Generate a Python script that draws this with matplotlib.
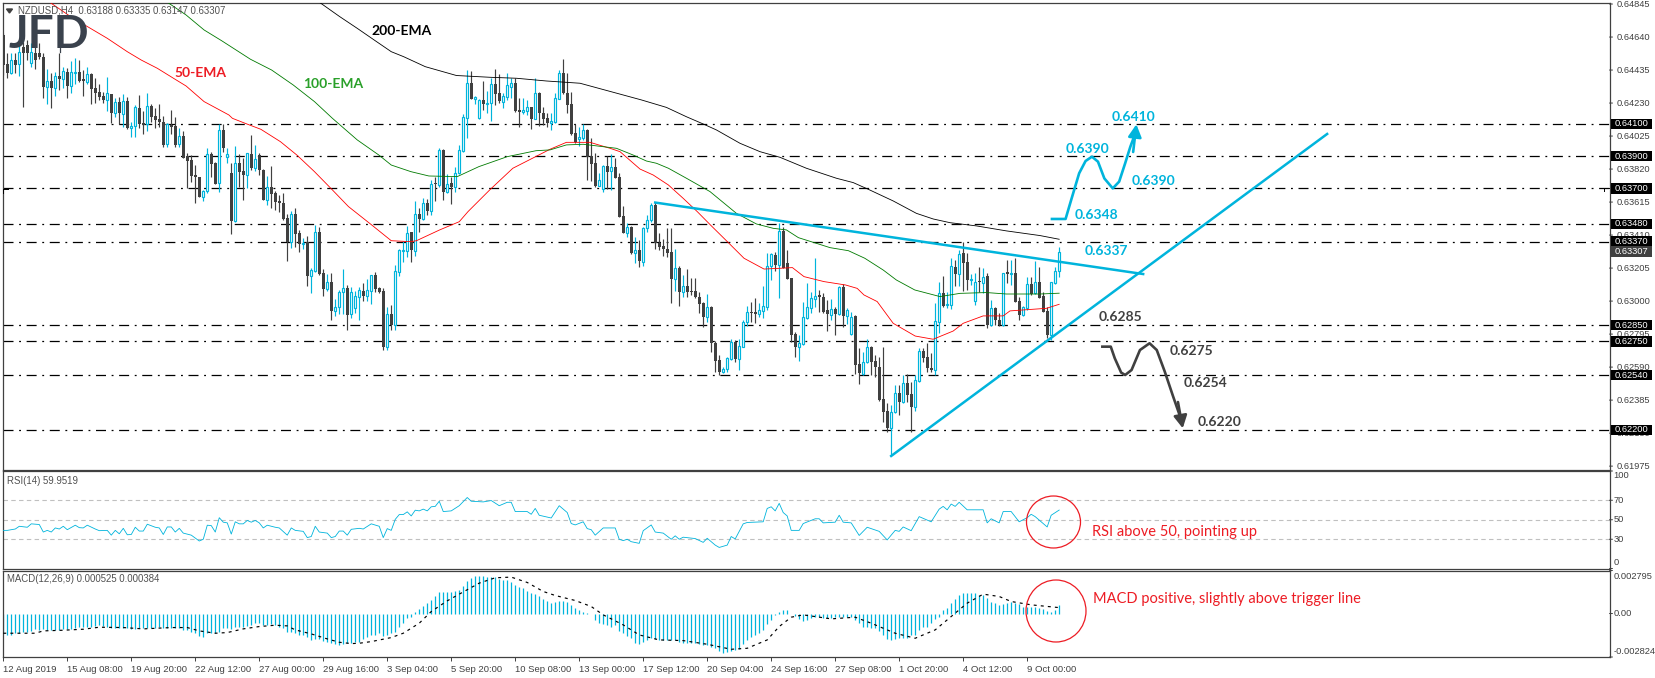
#!/usr/bin/env python3
import matplotlib
matplotlib.use('Agg')
import matplotlib.pyplot as plt
import numpy as np
from matplotlib.patches import Ellipse, Rectangle
from matplotlib.transforms import blended_transform_factory

# prices are quote points, 63307 = 0.63307
up_bars = ('0010100100' '0101010110' '0100001010' '1011001000' '0100100000' '1100101010' '0101001000'
           '0010010110' '0101110111' '0110001011' '1101010101' '0101111011' '0110011100' '1101000111'
           '0000110001' '1010001010' '1110000010' '1000001000' '1110111001' '1110100001' '1111000101'
           '0110011000' '0011010011' '0001101101' '0011010100' '1010011010' '00111')

body_top = [64653,64473,64498,64498,64549,64580,64591,64549,64543,64543,
            64518,64367,64367,64400,64400,64427,64421,64421,64423,64421,
            64377,64411,64411,64324,64297,64274,64291,64286,64237,64237,
            64243,64245,64088,64204,64201,64104,64212,64212,64148,64131,
            64110,64100,64096,64088,64023,64026,63901,63877,63783,63769,
            63682,63912,63914,63856,64063,64063,63912,63794,63856,63856,
            63806,63918,63916,63881,63908,63815,63707,63707,63670,63622,
            63612,63514,63541,63541,63421,63359,63365,63192,63430,63430,
            63173,63117,63117,62962,63055,63080,63080,63055,63032,63067,
            63063,63069,63160,63163,63080,63063,62920,62920,63187,63318,
            63318,63421,63430,63539,63541,63608,63610,63726,63728,63939,
            63939,63728,63736,63794,63939,64142,64353,64353,64266,64250,
            64250,64229,64347,64349,64295,64274,64343,64353,64353,64187,
            64185,64204,64204,64291,64295,64171,64136,64117,64260,64415,
            64415,64291,64225,64042,64017,64063,64063,63901,63856,63752,
            63839,63839,63831,63833,63769,63529,63460,63462,63315,63317,
            63452,63504,63595,63597,63363,63342,63324,63305,63204,63204,
            63094,63096,63063,63063,63026,62990,62961,62963,62742,62634,
            62576,62645,62748,62744,62721,62868,62930,62932,62932,62945,
            62970,63220,63291,63287,63435,63437,63239,63141,62796,62738,
            62899,62961,63017,63030,63036,63026,62945,62949,62949,63086,
            63086,62945,62904,62908,62607,62624,62717,62717,62628,62593,
            62392,62318,62309,62427,62427,62489,62489,62423,62510,62690,
            62690,62655,62587,62877,63048,63048,62982,63218,63210,63293,
            63297,63241,63135,63121,63123,63152,63156,62959,62955,62883,
            63173,63179,63173,63173,63001,62961,63104,63104,63117,63117,
            63034,62939,63117,63187,63307]

body_bottom = [64467,64415,64419,64466,64471,64539,64543,64481,64498,64514,
               64332,64330,64326,64326,64382,64382,64338,64338,64419,64365,
               64365,64361,64319,64295,64270,64249,64249,64170,64166,64166,
               64164,64073,64073,64088,64100,64096,64100,64146,64125,64115,
               63970,63978,64084,63968,63974,63891,63872,63777,63769,63649,
               63649,63682,63852,63728,63732,63949,63897,63500,63496,63802,
               63785,63785,63827,63827,63814,63628,63628,63666,63616,63610,
               63510,63370,63370,63417,63355,63353,63158,63158,63189,63169,
               63078,63078,62941,62941,62962,63059,62914,62920,62960,63028,
               63032,63034,63063,63074,63059,62717,62717,62852,62854,63183,
               63314,63314,63318,63314,63512,63512,63560,63562,63726,63721,
               63680,63680,63711,63707,63794,63935,64140,64258,64256,64136,
               64225,64225,64229,64287,64243,64239,64270,64332,64181,64175,
               64175,64183,64132,64134,64171,64132,64109,64109,64113,64258,
               64291,64218,64038,63990,64005,64011,63897,63852,63715,63717,
               63696,63804,63808,63765,63525,63425,63425,63297,63297,63247,
               63245,63452,63502,63359,63336,63326,63301,63137,63137,63057,
               63059,63059,63059,63024,62982,62904,62904,62738,62630,62562,
               62562,62576,62639,62639,62639,62717,62868,62924,62922,62922,
               62941,62966,63220,63224,63224,63208,63137,62790,62717,62717,
               62734,62897,62959,63013,63024,62935,62920,62914,62920,62920,
               62908,62908,62796,62603,62552,62547,62622,62624,62589,62386,
               62314,62210,62210,62309,62376,62376,62417,62345,62345,62506,
               62645,62583,62572,62572,62872,62972,62976,62976,63168,63168,
               63239,63131,63131,63003,63119,63115,62852,62852,62883,62852,
               62852,63168,63168,62997,62914,62916,62955,63042,63048,63021,
               62935,62790,62790,63115,63188]

highs = [64663,64539,64543,64543,64601,64611,64622,64601,64601,64601,
         64543,64440,64415,64425,64539,64456,64446,64491,64508,64498,
         64435,64452,64419,64388,64348,64301,64390,64286,64259,64266,
         64284,64266,64115,64218,64280,64183,64291,64222,64197,64222,
         64150,64108,64187,64141,64073,64059,63918,63908,63846,63773,
         63690,63949,63928,63866,64100,64098,63949,63856,63963,63912,
         63887,63922,64032,63970,63918,63819,63777,63839,63684,63659,
         63670,63541,63560,63577,63442,63390,63405,63208,63473,63463,
         63198,63169,63177,63013,63069,63198,63101,63086,63065,63090,
         63111,63138,63163,63183,63090,63080,62966,62976,63225,63322,
         63376,63467,63432,63624,63577,63639,63632,63752,63773,63951,
         63945,63790,63773,63831,63970,64160,64436,64432,64274,64256,
         64367,64305,64388,64442,64411,64291,64415,64384,64384,64260,
         64264,64250,64208,64384,64301,64204,64167,64167,64295,64436,
         64504,64415,64301,64100,64083,64100,64067,64011,63918,63794,
         63845,63901,63914,63887,63794,63591,63483,63467,63396,63380,
         63462,63535,63607,63613,63421,63384,63452,63452,63322,63218,
         63162,63200,63146,63146,63059,62997,63044,62970,62754,62665,
         62593,62655,62763,62759,62763,62883,62972,62997,63017,62986,
         63094,63297,63297,63307,63483,63458,63317,63141,62810,62790,
         62997,63115,63059,63266,63069,63048,63007,63013,62966,63094,
         63104,62955,62930,62914,62707,62686,62763,62721,62665,62655,
         62717,62365,62355,62479,62479,62541,62545,62500,62541,62707,
         62707,62738,62676,62986,63121,63156,63059,63266,63255,63317,
         63365,63297,63168,63173,63214,63204,63173,63007,62961,62924,
         63177,63255,63255,63266,63028,62970,63152,63152,63249,63214,
         63059,62966,63121,63214,63335]

lows = [64404,64384,64411,64415,64400,64208,64498,64452,64442,64504,
        64264,64224,64201,64276,64311,64322,64264,64291,64348,64363,
        64276,64348,64224,64233,64249,64228,64181,64104,64146,64098,
        64084,64067,64021,64021,64073,64036,64059,64115,64073,64084,
        63959,63955,64038,63959,63955,63891,63701,63742,63607,63645,
        63624,63674,63773,63728,63680,63928,63860,63417,63492,63711,
        63628,63701,63814,63810,63783,63628,63597,63577,63566,63556,
        63504,63252,63332,63334,63307,63324,63094,63053,63183,63163,
        63034,63063,62883,62910,62920,62918,62821,62893,62925,62883,
        62998,62998,62983,63059,63049,62697,62697,62821,62821,63156,
        63245,63272,63245,63280,63432,63504,63535,63535,63624,63711,
        63628,63670,63603,63680,63788,63929,64016,64256,64223,64132,
        64187,64167,64119,64218,64229,64202,64250,64260,64173,64084,
        64160,64156,64067,64129,64088,64094,64084,64063,64109,64254,
        64285,64167,64032,63984,63965,64001,63752,63746,63711,63715,
        63680,63694,63690,63763,63520,63421,63400,63293,63239,63214,
        63220,63431,63493,63324,63317,63280,63276,62990,63063,62972,
        63028,63028,63038,63017,62924,62841,62872,62686,62562,62541,
        62552,62562,62634,62624,62572,62713,62845,62872,62866,62903,
        62893,62945,63131,63187,63021,63204,63137,62748,62655,62628,
        62728,62887,62924,62966,62935,62924,62816,62883,62790,62914,
        62841,62858,62790,62547,62485,62541,62614,62541,62527,62382,
        62251,62189,62044,62303,62293,62369,62376,62185,62320,62500,
        62624,62562,62562,62541,62800,62966,62955,62951,63094,63094,
        63065,63069,63100,62976,63059,63048,62831,62845,62852,62848,
        62845,63110,63100,62997,62883,62908,62945,63038,63044,63017,
        62935,62769,62759,63106,63147]

ema50_bars = [11.8,17.1,21.1,26,31,34.5,38.5,43,45.7,50.2,56.4,57.3,60.9,64.4,69.3,73.4,77.8,82.3,86.3,92.1,
              97,101.9,103.3,109.1,114,116.2,121.6,127.4,132.3,136.7,140.8,146.7,151.7,154.2,159.2,162.5,166.3,
              170,173.5,176.8,181.2,185.2,190.2,194.4,197.3,200.2,205.2,210.6,213.5,215.2,218.5,222.5,228,232.5,
              237.5,240,245,250,251.7,255,260.8,264]
ema50 = [64853,64762,64704,64632,64549,64497,64446,64377,64336,64239,64156,64135,64100,64067,63990,63907,63804,
         63690,63587,63473,63375,63369,63375,63442,63493,63556,63690,63825,63887,63943,63986,63986,63949,63928,
         63820,63783,63721,63638,63556,63473,63365,63266,63199,63204,63208,63152,63121,63100,63079,63038,62997,
         62862,62783,62763,62814,62862,62908,62908,62939,62945,62955,62980]

ema100_bars = [41.2,45.7,50.2,54.6,61.8,67.1,72.5,77.8,82.3,88.5,93.9,97,101.9,106.4,113.5,118.9,126,133.2,136.7,
               140.8,145,153.3,157.5,160.8,163.3,166.3,170.8,176.7,183.3,188.3,192.5,195.8,198.8,202.5,206.7,
               211.3,215.4,220,223.3,227.9,234.2,239.2,245.8,250.8,259.2,264]
ema100 = [64853,64777,64684,64617,64502,64435,64342,64239,64135,64001,63907,63845,63804,63777,63773,63835,63897,
          63934,63939,63970,63974,63949,63907,63870,63856,63825,63763,63680,63545,63479,63452,63442,63394,63365,
          63332,63313,63266,63193,63131,63069,63028,63048,63053,63044,63044,63049]

ema200_bars = [79.2,84.1,88.5,93,97,100.1,105.5,113.3,121.7,128.3,135.8,144.2,159.6,165.8,170.8,175,178.3,184.2,
               189.2,194.2,200.8,208.3,212.5,216.3,222.5,228.3,232.5,236.7,243.3,250.8,259.2,264]
ema200 = [64853,64767,64694,64617,64549,64518,64456,64401,64390,64384,64367,64353,64249,64203,64145,64100,64063,
          63980,63928,63893,63825,63763,63736,63694,63622,63545,63510,63487,63467,63436,63407,63384]

rsi_bars = [0,1,3,4,6,7,9,10,11,12,13,14,15,16,18,19,20,21,23,24,26,27,28,29,30,31,32,33,34,35,36,38,39,40,41,42,43,
            44,45,47,49,50,51,52,53,54,55,56,57,58,59,60,61,62,63,64,65,66,68,69,71,72,73,75,76,77,78,79,81,82,83,
            84,85,86,87,89,90,92,94,95,96,97,98,99,100,101,102,103,104,105,106,107,108,109,110,112,114,116,117,120,
            122,124,126,127,128,131,132,133,134,137,139,141,142,143,145,146,147,148,150,153,154,155,156,157,159,160,
            162,163,165,167,168,169,170,173,175,176,178,179,181,182,183,185,186,190,191,192,193,194,195,196,197,199,
            200,203,204,205,208,209,210,212,214,216,219,221,223,224,225,227,229,232,234,235,236,237,238,239,241,245,
            246,247,249,250,252,254,256,257,258,261,262,264]
rsi = [39.1,39.1,40.5,43.3,42.3,45.8,45.1,37.4,39.1,37.4,41.6,40.5,43.3,39.8,44.4,41.9,41.6,44.4,40.5,38.8,39.1,34.2,
       39.1,35.6,41.2,34.6,34.9,42.3,38.4,38.4,45.4,42.3,41.6,34.9,42.6,42.6,37.4,41.2,36.3,34.2,28.2,30,44.4,44,37.4,
       52.1,47.5,46.8,35.3,47.9,45.8,45.8,49.3,47.5,49.3,46.8,41.6,44.4,42.3,41.6,34.2,41.6,39.1,38.1,31.7,32.8,43.3,
       37.4,36.3,31.7,32.8,38.4,38.4,34.2,40.2,41.2,40.5,45.8,43.3,31.7,40.9,39.1,50.4,55.3,55.3,58.1,53.9,59.8,59.1,
       60.9,59.1,63.3,63.7,69,58.4,59.1,64.4,72.8,69,68.3,69.7,64.4,67.9,67.9,58.4,58.4,55.6,61.6,54.6,51.8,64.4,57.4,
       46.1,44.7,47.9,40.9,39.8,34.2,41.6,41.6,30,28.6,30,27.5,25.8,38.8,44.7,37.4,36.3,30,33.5,30,32.1,30.7,26.8,31,
       24,21.6,24,32.8,30.3,45.8,47.2,47.9,61.6,63.3,59.1,66.8,57.4,53.9,39.1,39.1,46.1,51,51,46.8,47.5,54.6,47.5,46.8,
       33.9,42.3,38.1,29.3,39.1,38.1,42.6,38.8,53.2,47.9,60.9,63.7,60.2,66.1,63.7,67.9,60.2,60.2,46.8,51,46.8,58.4,58.4,
       47.9,52.1,55.6,53.2,42.6,54.6,59.95]

# MACD values in millionths
macd_hist = [-1324,-1389,-1389,-1280,-1237,-1172,-1172,-1107,-1020,-1063,-1020,-1063,-1085,-1085,-1042,-1020,-1020,
             -1020,-955,-890,-890,-890,-846,-803,-738,-781,-846,-911,-911,-911,-911,-911,-998,-998,-955,-955,-911,
             -911,-911,-890,-911,-911,-911,-911,-955,-1063,-1063,-1172,-1280,-1432,-1519,-1280,-1237,-1280,-1172,
             -955,-955,-998,-846,-890,-846,-781,-738,-629,-629,-738,-738,-673,-738,-846,-955,-1172,-1172,-1280,-1389,
             -1389,-1497,-1714,-1649,-1671,-1779,-1823,-1931,-1996,-2040,-1996,-1931,-1888,-1823,-1823,-1671,-1497,
             -1389,-1389,-1280,-1454,-1389,-1280,-1172,-846,-629,-304,-195,130,282,499,673,890,1107,1367,1367,1367,
             1367,1432,1541,1801,2083,2300,2409,2452,2409,2365,2365,2365,2235,2192,2148,2018,1866,1714,1649,1475,1324,
             1259,1107,933,825,716,781,825,825,781,564,347,239,130,22,-43,-412,-586,-694,-738,-846,-738,-1128,-1280,
             -1432,-1606,-1888,-1975,-1823,-1714,-1606,-1649,-1714,-1714,-1714,-1714,-1714,-1823,-1888,-1931,-1931,
             -1931,-1975,-2040,-2040,-2148,-2257,-2409,-2539,-2474,-2430,-2365,-2322,-1996,-1714,-1497,-1389,-1237,
             -1063,-694,-412,-87,130,239,239,-43,-152,-369,-456,-412,-304,-195,-239,-304,-304,-304,-239,-195,-195,-239,
             -239,-412,-629,-846,-846,-911,-955,-1107,-1389,-1649,-1714,-1671,-1606,-1562,-1606,-1389,-1389,-1063,-846,
             -846,-629,-369,-195,239,391,716,933,1215,1324,1324,1324,1324,1215,1215,998,781,673,564,629,673,781,716,629,
             412,456,412,456,391,282,195,87,239,525]

signal_bars = [0,4,8,10,15,20,24,30,35,42,46,49,53,56,60,64,68,71,73,77,81,84,87,89,92,97,100,104,107,111,114,119,123,
               127,131,135,138,143,147,150,155,159,164,170,176,182,186,191,194,197,200,207,213,217,223,228,233,237,241,
               245,249,252,257,264]
signal = [-1280,-1280,-1280,-1128,-1085,-1020,-890,-911,-998,-911,-911,-1128,-1280,-1237,-998,-846,-760,-803,-1063,
          -1324,-1649,-1866,-1953,-1931,-1823,-1562,-1280,-629,130,825,1259,1975,2322,2365,2018,1432,1172,846,456,-87,
          -738,-1389,-1714,-1758,-1996,-2322,-2257,-1714,-846,-239,-87,-347,-239,-629,-1280,-1606,-1063,-195,673,1259,
          1107,781,564,384]

# drawn analysis on the price panel
falling_bars = [163,285]
falling_line = [63612,63168]
rising_bars = [222,331]
rising_line = [62038,64038]
bull_path_bars = [262.2,265.6,267,269,270.6,272.2,273.7,275.3,277.4,279,280.5,281.8,283.1]
bull_path = [63510,63510,63628,63794,63870,63897,63866,63762,63700,63742,63856,63959,64046]
bull_tip = (283.3,64098)
bear_path_bars = [274.8,276.9,277.9,279.5,280.5,282.1,284.2,286.6,288.4,290.4,292.5,294.1]
bear_path = [62717,62717,62645,62556,62541,62572,62696,62738,62696,62562,62407,62293]
bear_tip = (294.9,62210)

levels = [64100,63900,63700,63480,63370,62850,62750,62540,62200]
last_price = 63307
price_ticks = [64845,64640,64435,64230,64025,63820,63615,63410,63205,63000,62795,62590,62385,62180,61975]
date_labels = ['12 Aug 2019','15 Aug 08:00','19 Aug 20:00','22 Aug 12:00','27 Aug 00:00','29 Aug 16:00','3 Sep 04:00',
               '5 Sep 20:00','10 Sep 08:00','13 Sep 00:00','17 Sep 12:00','20 Sep 04:00','24 Sep 16:00','27 Sep 08:00',
               '1 Oct 20:00','4 Oct 12:00','9 Oct 00:00']
date_step = 16
rsi_ticks = [100,70,50,30,0]
rsi_tick_shift = [-5,0,0,0,6]
macd_ticks = [2795,0,-2824]
macd_tick_labels = ['0.002795','0.00','-0.002824']
macd_tick_shift = [-6,0,6]

cyan = '#00b4dc'
dark = '#404040'
red = '#ed1c24'
W, H = 1655, 678
mono = 'Liberation Sans'
bold = 'Lato'


def panel(top, bottom):
    ax = fig.add_axes([2.5/W, 1-bottom/H, (1609.5-2.5)/W, (bottom-top)/H])
    for s in ax.spines.values():
        s.set_color(dark)
        s.set_linewidth(0.9)
    ax.set_xlim(-0.2, 401.6)
    ax.set_xticks([])
    ax.set_yticks([])
    return ax


def side_label(ax, y, text, shift=0, x=4, size=6.7, color=dark):
    tr = blended_transform_factory(ax.transAxes, ax.transData)
    ax.annotate('', xy=(1, y), xycoords=tr, xytext=(3, 0), textcoords='offset pixels',
                arrowprops=dict(arrowstyle='-', color=dark, lw=0.7, shrinkA=0, shrinkB=0))
    ax.annotate(text, xy=(1, y), xycoords=tr, xytext=(x, shift), textcoords='offset pixels',
                ha='left', va='center', fontsize=size, color=color, family=mono, annotation_clip=False)


fig = plt.figure(figsize=(W/100, H/100), dpi=100)

# price panel
ax = panel(2.5, 469.5)
ax.set_ylim(61954, 64854.5)
bars = np.arange(len(body_top))
up = np.array([c == '1' for c in up_bars])
top = np.array(body_top)
bottom = np.array(body_bottom)

for lvl in levels:
    ax.axhline(lvl, color='black', lw=0.9, ls=(0, (8, 4.5, 1.5, 4.5)), zorder=1.5)

ax.vlines(bars[up], np.array(lows)[up], np.array(highs)[up], color=cyan, lw=0.85, zorder=2)
ax.vlines(bars[~up], np.array(lows)[~up], np.array(highs)[~up], color=dark, lw=0.85, zorder=2)
ax.bar(bars[up], (top-bottom)[up], bottom=bottom[up], width=0.5, facecolor='white', edgecolor=cyan, lw=0.85, zorder=3)
ax.bar(bars[~up], np.maximum((top-bottom)[~up], 5), bottom=bottom[~up], width=0.75, facecolor=dark, lw=0, zorder=3)

ax.plot(ema50_bars, ema50, color='#ff0000', lw=0.6, zorder=4)
ax.plot(ema100_bars, ema100, color='#007a00', lw=0.6, zorder=4)
ax.plot(ema200_bars, ema200, color='black', lw=0.6, zorder=4)

ax.plot(falling_bars, falling_line, color=cyan, lw=1.8, zorder=5)
ax.plot(rising_bars, rising_line, color=cyan, lw=1.8, zorder=5)
ax.plot(bull_path_bars, bull_path, color=cyan, lw=1.9, zorder=5, solid_joinstyle='round')
ax.plot(bear_path_bars, bear_path, color=dark, lw=1.9, zorder=5, solid_joinstyle='round')
ax.annotate('', xy=bull_tip, xytext=(bull_path_bars[-1]-0.6, bull_path[-1]-120),
            arrowprops=dict(arrowstyle='-|>,head_length=0.75,head_width=0.4', color=cyan, lw=1.9, shrinkA=0, shrinkB=0), zorder=5)
ax.annotate('', xy=bear_tip, xytext=(bear_path_bars[-1]-0.4, bear_path[-1]+80),
            arrowprops=dict(arrowstyle='-|>,head_length=0.75,head_width=0.4', color=dark, lw=1.9, shrinkA=0, shrinkB=0), zorder=5)

for p in price_ticks:
    side_label(ax, p, '{0:.5f}'.format(p/1e5), x=7)

tr = blended_transform_factory(ax.transAxes, ax.transData)
box_w, box_h = 40.5/1607, 10.5*6.21
for lvl in levels + [last_price]:
    c = dark if lvl == last_price else 'black'
    ax.add_patch(Rectangle((1.001, lvl-box_h/2), box_w, box_h, transform=tr, facecolor=c, edgecolor='none',
                           clip_on=False, zorder=6))
    ax.text(1.0035, lvl, '{0:.5f}'.format(lvl/1e5), transform=tr, color='white', fontsize=6.7, family=mono,
            ha='left', va='center', zorder=7, clip_on=False)

# RSI panel
ax2 = panel(471, 568.5)
ax2.set_ylim(0, 100)
for lvl in rsi_ticks[1:4]:
    ax2.axhline(lvl, color='#c0c0c0', lw=0.8, ls=(0, (4, 3)), zorder=1)
ax2.plot(rsi_bars, rsi, color=cyan, lw=0.6, zorder=3)
for v, s in zip(rsi_ticks, rsi_tick_shift):
    side_label(ax2, v, str(v), shift=s)

# MACD panel
ax3 = panel(570.5, 657)
ax3.set_ylim(-2824, 2795)
ax3.vlines(bars, 0, macd_hist, color=cyan, lw=0.9, zorder=2)
ax3.plot(signal_bars, signal, color='black', lw=0.85, ls=(0, (2.5, 3.5)), zorder=3)
for v, l, s in zip(macd_ticks, macd_tick_labels, macd_tick_shift):
    side_label(ax3, v, l, shift=s)

tick_pos = np.arange(len(date_labels))*date_step
ax3.set_xticks(tick_pos)
ax3.set_xticklabels(date_labels, ha='left', fontsize=6.8, color=dark, family=mono)
ax3.tick_params(axis='x', length=3, width=0.7, color=dark, pad=3)

# text and marks placed on the picture itself
over = fig.add_axes([0, 0, 1, 1], facecolor='none')
over.set_xlim(0, W)
over.set_ylim(H, 0)
over.axis('off')


def head(x, y, s, **kw):
    over.text(x, y, s, fontsize=6.9, color='#505050', family=mono, va='center', ha='left', **kw)


# logo, the stem of the D is a small candle
over.text(9, 35, 'JFD', fontsize=33, fontweight='bold', family=bold, color='#3a424d', ha='left', va='center')
over.add_patch(Rectangle((54, 17), 11, 36, facecolor='white', edgecolor='none'))
over.plot([59.5, 59.5], [17, 52], color='#3a424d', lw=0.9)
over.add_patch(Rectangle((57.5, 30), 4, 10, facecolor='#3a424d', edgecolor='none'))

over.fill([6.5, 12.5, 9.5], [9, 9, 13], color=dark)
head(18, 10.5, 'NZDUSD,H4  0.63188 0.63335 0.63147 0.63307')
head(7, 481, 'RSI(14) 59.9519')
head(7, 579, 'MACD(12,26,9) 0.000525 0.000384')

for s, x, y, c in [('200-EMA', 402, 31, 'black'), ('100-EMA', 333, 84, '#2aa02a'), ('50-EMA', 200, 73, red),
                   ('0.6410', 1133, 117, cyan), ('0.6390', 1087, 149, cyan), ('0.6390', 1153, 181, cyan),
                   ('0.6348', 1096, 215, cyan), ('0.6337', 1106, 251, cyan), ('0.6285', 1120, 317, dark),
                   ('0.6275', 1191, 351, dark), ('0.6254', 1206, 383, dark), ('0.6220', 1220, 422, dark)]:
    over.text(x, y, s, fontsize=10, fontweight='bold', family=bold, color=c, ha='center', va='center')

over.text(1092, 532, 'RSI above 50, pointing up', fontsize=10.5, family=bold, color=red, ha='left', va='center')
over.text(1093, 599, 'MACD positive, slightly above trigger line', fontsize=10.5, family=bold, color=red, ha='left', va='center')
over.add_patch(Ellipse((1053.5, 522), 54, 52, fill=False, edgecolor=red, lw=0.9))
over.add_patch(Ellipse((1056, 611), 60, 62, fill=False, edgecolor=red, lw=0.9))

# period separator marks at the left and right edge
over.plot([3, 3, 8], [193, 189, 189], color='black', lw=0.7)
over.plot([1604, 1604, 1609], [191, 188, 188], color='black', lw=0.7)

fig.savefig('out.png', dpi=100)
